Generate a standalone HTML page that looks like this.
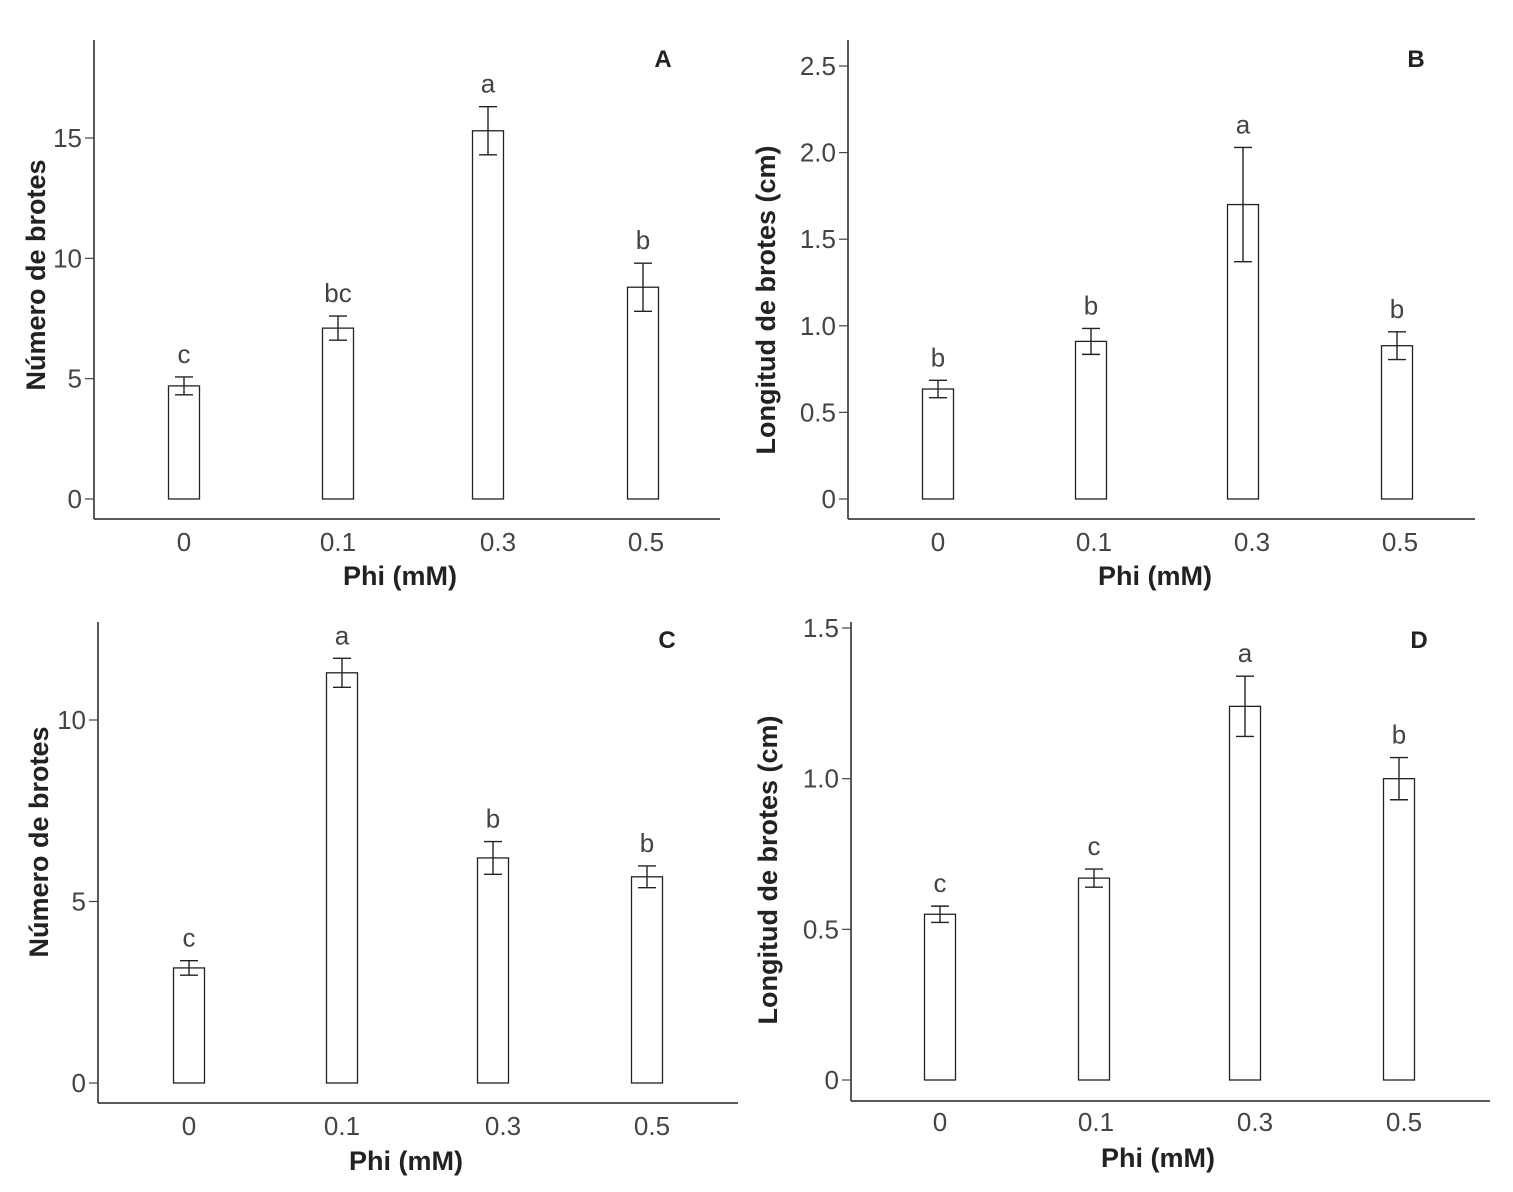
<!DOCTYPE html>
<html><head><meta charset="utf-8"><style>
html,body{margin:0;padding:0;background:#fff;}
svg{display:block;font-family:"Liberation Sans",sans-serif;}
.tick{font-size:26px;fill:#444;}
.xt{font-size:26px;fill:#444;}
.ttl{font-size:27px;font-weight:bold;fill:#222;}
.let{font-size:26px;fill:#444;}
.pl{font-size:24px;font-weight:bold;fill:#222;}
</style></head><body>
<svg id="chart" width="1513" height="1192" viewBox="0 0 1513 1192"></svg>
<script>
const categories = ["0","0.1","0.3","0.5"];
const valuesA = [4.7, 7.1, 15.3, 8.8];
const errorsA = [0.37, 0.5, 1.0, 1.0];
const lettersA = ["c","bc","a","b"];
const ticksA = [0,5,10,15];
const valuesB = [0.635, 0.91, 1.70, 0.885];
const errorsB = [0.05, 0.075, 0.33, 0.08];
const lettersB = ["b","b","a","b"];
const ticksB = [0,0.5,1.0,1.5,2.0,2.5];
const valuesC = [3.17, 11.3, 6.2, 5.68];
const errorsC = [0.2, 0.4, 0.45, 0.3];
const lettersC = ["c","a","b","b"];
const ticksC = [0,5,10];
const valuesD = [0.55, 0.67, 1.24, 1.0];
const errorsD = [0.027, 0.03, 0.1, 0.07];
const lettersD = ["c","c","a","b"];
const ticksD = [0,0.5,1.0,1.5];

const NS="http://www.w3.org/2000/svg";
const svg=document.getElementById('chart');
function mk(tag,attrs,parent,text){const e=document.createElementNS(NS,tag);for(const k in attrs)e.setAttribute(k,attrs[k]);if(text!==undefined)e.textContent=text;(parent||svg).appendChild(e);return e;}

const panels=[
 {id:'a',label:'A',vals:valuesA,errs:errorsA,lets:lettersA,ticks:ticksA,dec:0,ax:94,top:40,bot:519,right:720,y0:499,yv:15,yp:138,cx:[184,338,488,643],xl:[184,338,498,646],title:'Número de brotes',tx:45,ty:275,px:663,py:67,xt:400,xty:585,xly:551},
 {id:'b',label:'B',vals:valuesB,errs:errorsB,lets:lettersB,ticks:ticksB,dec:1,ax:848,top:40,bot:519,right:1475,y0:499,yv:2.5,yp:66,cx:[938,1091,1243,1397],xl:[938,1094,1252,1400],title:'Longitud de brotes (cm)',tx:775,ty:300,px:1416,py:67,xt:1155,xty:585,xly:551},
 {id:'c',label:'C',vals:valuesC,errs:errorsC,lets:lettersC,ticks:ticksC,dec:0,ax:98,top:622,bot:1103,right:738,y0:1083,yv:10,yp:720,cx:[189,342,493,647],xl:[189,342,503,652],title:'Número de brotes',tx:48,ty:842,px:667,py:648,xt:406,xty:1170,xly:1135},
 {id:'d',label:'D',vals:valuesD,errs:errorsD,lets:lettersD,ticks:ticksD,dec:1,ax:851,top:622,bot:1101,right:1490,y0:1080,yv:1.5,yp:628,cx:[940,1094,1245,1399],xl:[940,1096,1255,1404],title:'Longitud de brotes (cm)',tx:777,ty:870,px:1419,py:648,xt:1158,xty:1167,xly:1131}
];
const bw=31;
panels.forEach(p=>{
 const g=mk('g',{});
 
 
 const y=v=>p.y0-(v/p.yv)*(p.y0-p.yp);
 const ya=mk('line',{x1:p.ax,y1:p.top,x2:p.ax,y2:p.bot,stroke:'#222','stroke-width':1.5},g);
 
 
 const xa=mk('line',{x1:p.ax,y1:p.bot,x2:p.right,y2:p.bot,stroke:'#222','stroke-width':1.5},g);
 
 
 p.ticks.forEach(t=>{
  const yy=y(t);
  const tm=mk('line',{x1:p.ax-9,y1:yy,x2:p.ax,y2:yy,stroke:'#444','stroke-width':1.2},g);
  
  
  const tl=mk('text',{x:p.ax-12,y:yy+9,'text-anchor':'end',class:'tick'},g,t===0?'0':t.toFixed(p.dec));
  
  
 });
 categories.forEach((c,i)=>{
  const v=p.vals[i],e=p.errs[i],cx=p.cx[i];
  const r=mk('rect',{x:cx-bw/2,y:y(v),width:bw,height:y(0)-y(v),fill:'#fff',stroke:'#222','stroke-width':1.3},g);
  
  
  const eg=mk('g',{stroke:'#222','stroke-width':1.4},g);
  
  
  mk('line',{x1:cx,y1:y(v+e),x2:cx,y2:y(v-e)},eg);
  mk('line',{x1:cx-9,y1:y(v+e),x2:cx+9,y2:y(v+e)},eg);
  mk('line',{x1:cx-9,y1:y(v-e),x2:cx+9,y2:y(v-e)},eg);
  const lt=mk('text',{x:cx,y:y(v+e)-14,'text-anchor':'middle',class:'let'},g,p.lets[i]);
  
  
  const xl=mk('text',{x:p.xl[i],y:p.xly,'text-anchor':'middle',class:'xt'},g,c);
  
  
 });
 const xt=mk('text',{x:p.xt,y:p.xty,'text-anchor':'middle',class:'ttl'},g,'Phi (mM)');
 
 
 const yt=mk('text',{x:p.tx,y:p.ty,'text-anchor':'middle',class:'ttl',transform:'rotate(-90 '+p.tx+' '+p.ty+')'},g,p.title);
 
 
 const pl=mk('text',{x:p.px,y:p.py,'text-anchor':'middle',class:'pl'},g,p.label);
 
 
});
</script>
</body></html>
